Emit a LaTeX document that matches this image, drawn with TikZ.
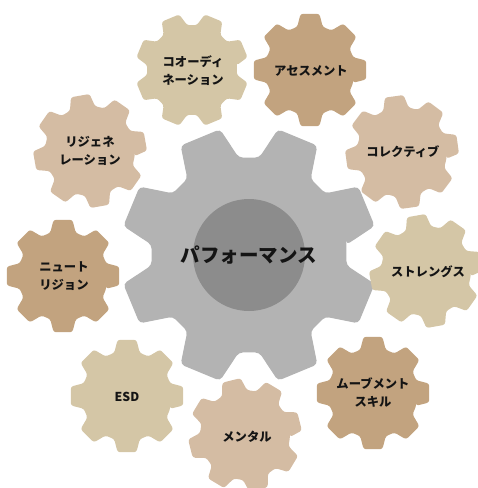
\documentclass[tikz,border=0pt]{standalone}
\usepackage{fontspec}
\setmainfont{Noto Sans CJK JP}
\definecolor{bigG}{HTML}{B3B3B3}
\definecolor{hubG}{HTML}{8C8C8C}
\definecolor{beigeA}{HTML}{D4C6A6}
\definecolor{brownA}{HTML}{C2A37F}
\definecolor{roseA}{HTML}{D4BCA3}
\definecolor{txtc}{HTML}{141414}
\newcommand{\mygear}[7]{% x y R r rot color corner
  \begin{scope}[shift={(#1,#2)}]
    \fill[#6, rounded corners=#7]
      (#5-16.5:#4pt)
      \foreach \i in {0,...,7}{
        -- ({\i*45+#5-16.5}:#4pt) -- ({\i*45+#5-9.5}:#3pt)
        -- ({\i*45+#5+9.5}:#3pt) -- ({\i*45+#5+16.5}:#4pt)
      } -- cycle;
  \end{scope}}
\tikzset{
  lbl/.style={font=\bfseries\fontsize{12.3}{18}\selectfont, text=txtc, align=center, inner sep=0pt},
  biglbl/.style={font=\bfseries\fontsize{19.5}{22}\selectfont, text=txtc, inner sep=0pt}
}
\begin{document}
\begin{tikzpicture}[x=1pt,y=-1pt]
\useasboundingbox (0,0) rectangle (478,488);
% central gear
\mygear{249}{255}{129}{98}{22.5}{bigG}{4pt}
\fill[hubG] (249,255) circle[radius=56pt];
\node[biglbl] (perf) at (249,255) {パフォーマンス};
% small gears
\mygear{192}{70}{57}{45}{22.5}{beigeA}{2.5pt}
\node[lbl] (coord) at (193,71) {コオーディ\\ネーション};
\mygear{310}{70}{57}{45}{0}{brownA}{2.5pt}
\node[lbl] (asses) at (311,71) {アセスメント};
\mygear{402}{152}{57}{45}{8}{roseA}{2.5pt}
\node[lbl] (coll) at (403,152) {コレクティブ};
\mygear{426}{271}{57}{45}{10}{beigeA}{2.5pt}
\node[lbl] (stren) at (428,272) {ストレングス};
\mygear{373}{393}{57}{45}{0}{brownA}{2.5pt}
\node[lbl] (move) at (373,393) {ムーブメント\\スキル};
\mygear{245}{435}{57}{45}{14}{roseA}{2.5pt}
\node[lbl] (ment) at (247,437) {メンタル};
\mygear{127}{396}{57}{45}{0}{beigeA}{2.5pt}
\node[lbl] (esd) at (127,397) {ESD};
\mygear{63}{276}{57}{45}{0}{brownA}{2.5pt}
\node[lbl] (nutr) at (64,276) {ニュート\\リジョン};
\mygear{90}{151}{57}{45}{10}{roseA}{2.5pt}
\node[lbl] (regen) at (90,151) {リジェネ\\レーション};
\end{tikzpicture}
\end{document}
